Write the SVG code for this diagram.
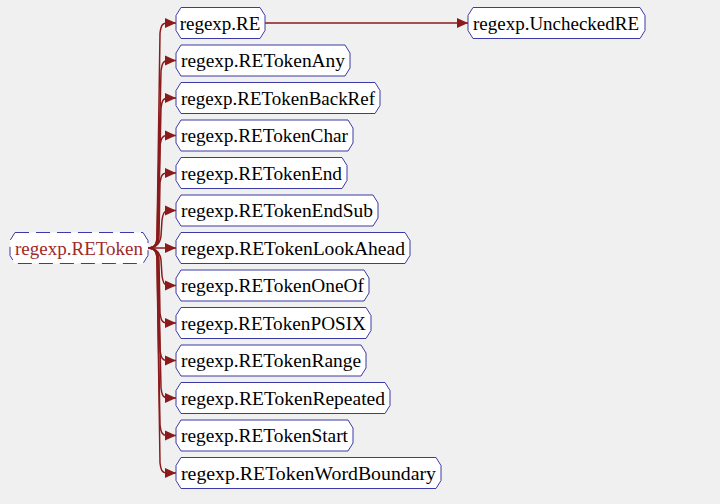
<svg xmlns="http://www.w3.org/2000/svg" width="720" height="504" viewBox="0 0 720 504">
<style>
.bg{fill:#f0f0f0}
.node polygon{fill:#ffffff;stroke:#3a3aa8;stroke-width:1}
.node text{font-family:"Liberation Serif","Times New Roman",serif;font-size:19px;fill:#000000;text-anchor:middle;dominant-baseline:central}
#n_REToken polygon{stroke-dasharray:14,7}
#n_REToken text{fill:#a02a2a}
.edges path{fill:none;stroke:#8b1a1a;stroke-width:1.5}
</style>
<defs>
<marker id="arr" markerUnits="userSpaceOnUse" markerWidth="13" markerHeight="12" refX="11" refY="6" orient="auto">
<polygon points="0,1 11,6 0,11" fill="#8b1a1a"/>
</marker>
</defs>
<rect class="bg" x="0" y="0" width="720" height="504"/>
<g class="edges">
<path marker-end="url(#arr)" d="M148,248 C155,248 157,244 157,236 L160,33 C161,26 162,23 167,23 L176,23"/>
<path marker-end="url(#arr)" d="M148,248 C155,248 157,244 157,236 L161,71 C162,64 163,60.5 168,60.5 L176,60.5"/>
<path marker-end="url(#arr)" d="M148,248 C155,248 158,244 158,236 L161,108 C162,101 163,98 168,98 L176,98"/>
<path marker-end="url(#arr)" d="M148,248 C155,248 158,244 158,236 L160,146 C161,139 162,135.5 167,135.5 L176,135.5"/>
<path marker-end="url(#arr)" d="M148,248 C155,248 159,244 159,236 L160,183 C161,176 162,173 167,173 L176,173"/>
<path marker-end="url(#arr)" d="M148,248 C155,248 160,244 161,236 L162,220 C163,214 164,210.5 168,210.5 L176,210.5"/>
<path marker-end="url(#arr)" d="M148,248 L176,248"/>
<path marker-end="url(#arr)" d="M148,248 C155,248 160,252 161,260 L162,276 C163,282 164,285.5 168,285.5 L176,285.5"/>
<path marker-end="url(#arr)" d="M148,248 C155,248 159,252 159,260 L160,313 C161,320 162,323 167,323 L176,323"/>
<path marker-end="url(#arr)" d="M148,248 C155,248 158,252 158,260 L160,350 C161,357 162,360.5 167,360.5 L176,360.5"/>
<path marker-end="url(#arr)" d="M148,248 C155,248 158,252 158,260 L161,388 C162,395 163,398 168,398 L176,398"/>
<path marker-end="url(#arr)" d="M148,248 C155,248 157,252 157,260 L160,425 C161,432 162,435.5 167,435.5 L176,435.5"/>
<path marker-end="url(#arr)" d="M148,248 C155,248 157,252 157,260 L160,463 C161,470 162,473 167,473 L176,473"/>
<path marker-end="url(#arr)" d="M265,23 L468,23"/>
</g>
<g id="n_REToken" class="node"><polygon points="15,232.5 143,232.5 148,240.5 148,255.5 143,263.5 15,263.5 10,255.5 10,240.5"/><text x="79" y="248" textLength="128" lengthAdjust="spacingAndGlyphs">regexp.REToken</text></g>
<g id="n_RE" class="node"><polygon points="181,7.5 260,7.5 265,15.5 265,30.5 260,38.5 181,38.5 176,30.5 176,15.5"/><text x="220" y="23">regexp.RE</text></g>
<g id="n_UncheckedRE" class="node"><polygon points="473,7.5 640,7.5 645,15.5 645,30.5 640,38.5 473,38.5 468,30.5 468,15.5"/><text x="556" y="23" textLength="166" lengthAdjust="spacingAndGlyphs">regexp.UncheckedRE</text></g>
<g id="n_RETokenAny" class="node"><polygon points="181,45 345,45 350,53 350,68 345,76 181,76 176,68 176,53"/><text x="263" y="60.5" textLength="164" lengthAdjust="spacingAndGlyphs">regexp.RETokenAny</text></g>
<g id="n_RETokenBackRef" class="node"><polygon points="181,82.5 375,82.5 380,90.5 380,105.5 375,113.5 181,113.5 176,105.5 176,90.5"/><text x="278" y="98" textLength="194" lengthAdjust="spacingAndGlyphs">regexp.RETokenBackRef</text></g>
<g id="n_RETokenChar" class="node"><polygon points="181,120 348,120 353,128 353,143 348,151 181,151 176,143 176,128"/><text x="264.5" y="135.5" textLength="167" lengthAdjust="spacingAndGlyphs">regexp.RETokenChar</text></g>
<g id="n_RETokenEnd" class="node"><polygon points="181,157.5 342,157.5 347,165.5 347,180.5 342,188.5 181,188.5 176,180.5 176,165.5"/><text x="261.5" y="173" textLength="161" lengthAdjust="spacingAndGlyphs">regexp.RETokenEnd</text></g>
<g id="n_RETokenEndSub" class="node"><polygon points="181,195 373,195 378,203 378,218 373,226 181,226 176,218 176,203"/><text x="277" y="210.5" textLength="192" lengthAdjust="spacingAndGlyphs">regexp.RETokenEndSub</text></g>
<g id="n_RETokenLookAhead" class="node"><polygon points="181,232.5 405,232.5 410,240.5 410,255.5 405,263.5 181,263.5 176,255.5 176,240.5"/><text x="293" y="248" textLength="224" lengthAdjust="spacingAndGlyphs">regexp.RETokenLookAhead</text></g>
<g id="n_RETokenOneOf" class="node"><polygon points="181,270 364,270 369,278 369,293 364,301 181,301 176,293 176,278"/><text x="272.5" y="285.5" textLength="183" lengthAdjust="spacingAndGlyphs">regexp.RETokenOneOf</text></g>
<g id="n_RETokenPOSIX" class="node"><polygon points="181,307.5 366,307.5 371,315.5 371,330.5 366,338.5 181,338.5 176,330.5 176,315.5"/><text x="273.5" y="323" textLength="185" lengthAdjust="spacingAndGlyphs">regexp.RETokenPOSIX</text></g>
<g id="n_RETokenRange" class="node"><polygon points="181,345 361,345 366,353 366,368 361,376 181,376 176,368 176,353"/><text x="271" y="360.5" textLength="180" lengthAdjust="spacingAndGlyphs">regexp.RETokenRange</text></g>
<g id="n_RETokenRepeated" class="node"><polygon points="181,382.5 385,382.5 390,390.5 390,405.5 385,413.5 181,413.5 176,405.5 176,390.5"/><text x="283" y="398" textLength="204" lengthAdjust="spacingAndGlyphs">regexp.RETokenRepeated</text></g>
<g id="n_RETokenStart" class="node"><polygon points="181,420 348,420 353,428 353,443 348,451 181,451 176,443 176,428"/><text x="264.5" y="435.5" textLength="167" lengthAdjust="spacingAndGlyphs">regexp.RETokenStart</text></g>
<g id="n_RETokenWordBoundary" class="node"><polygon points="181,457.5 436,457.5 441,465.5 441,480.5 436,488.5 181,488.5 176,480.5 176,465.5"/><text x="308.5" y="473" textLength="255" lengthAdjust="spacingAndGlyphs">regexp.RETokenWordBoundary</text></g>
</svg>
